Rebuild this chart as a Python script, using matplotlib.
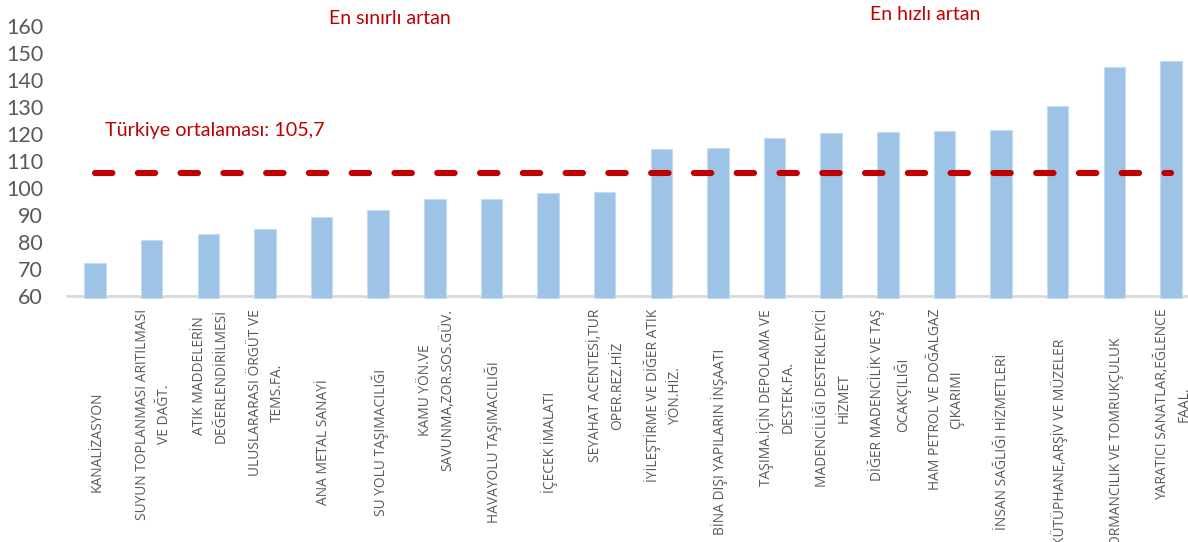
import numpy as np
import matplotlib
matplotlib.use("Agg")
import matplotlib.pyplot as plt
from matplotlib import transforms

# values
labels = [
    "KANALİZASYON",
    "SUYUN TOPLANMASI ARITILMASI\nVE DAĞT.",
    "ATIK MADDELERİN\nDEĞERLENDİRİLMESİ",
    "ULUSLARARASI ÖRGÜT VE\nTEMS.FA.",
    "ANA METAL SANAYİ",
    "SU YOLU TAŞIMACILIĞI",
    "KAMU YÖN.VE\nSAVUNMA,ZOR.SOS.GÜV.",
    "HAVAYOLU TAŞIMACILIĞI",
    "İÇECEK İMALATI",
    "SEYAHAT ACENTESİ,TUR\nOPER.REZ.HİZ",
    "İYİLEŞTİRME VE DİĞER ATIK\nYÖN.HİZ.",
    "BİNA DIŞI YAPILARIN İNŞAATI",
    "TAŞIMA.İÇİN DEPOLAMA VE\nDESTEK.FA.",
    "MADENCİLİĞİ DESTEKLEYİCİ\nHİZMET",
    "DİĞER MADENCİLİK VE TAŞ\nOCAKÇILIĞI",
    "HAM PETROL VE DOĞALGAZ\nÇIKARIMI",
    "İNSAN SAĞLIĞI HİZMETLERİ",
    "KÜTÜPHANE,ARŞİV VE MÜZELER",
    "ORMANCILIK VE TOMRUKÇULUK",
    "YARATICI SANATLAR,EĞLENCE\nFAAL.",
]
values = [72.4, 80.7, 82.8, 84.9, 89.1, 92.0, 95.8, 95.9, 98.3, 98.4,
          114.3, 114.8, 118.7, 120.2, 120.7, 121.1, 121.5, 130.4, 144.8, 146.9]
average = 105.7
yticks = [60, 70, 80, 90, 100, 110, 120, 130, 140, 150, 160]

BAR = "#9dc3e6"
RED = "#c00000"
GREY = "#595959"

fig = plt.figure(figsize=(11.88, 5.42), dpi=100)
W, H = 1188, 542
ax = fig.add_axes([66.7 / W, 1 - 296 / H, (1199.3 - 66.7) / W, 270 / H])

x = np.arange(len(values))
ax.bar(x, np.array(values) - 59.1, bottom=59.1, width=0.38, color=BAR,
       edgecolor="#c6dcf1", linewidth=0.8, clip_on=False, zorder=2)

ax.plot([x[0], x[-1]], [average, average], color=RED, linewidth=4.4,
        dashes=(2.85, 4.15), solid_capstyle="round", dash_capstyle="round", zorder=3)

ax.set_xlim(-0.5, len(values) - 0.5)
ax.set_ylim(60, 160)
ax.set_yticks(yticks)
ax.set_xticks([])
for s in ["top", "right", "left"]:
    ax.spines[s].set_visible(False)
ax.spines["bottom"].set_color("#d9d9d9")
ax.spines["bottom"].set_linewidth(2)
ax.spines["bottom"].set_zorder(1)
ax.tick_params(axis="y", length=0, pad=17, labelsize=15.5, labelcolor=GREY)
for t in ax.get_yticklabels():
    t.set_fontfamily("Lato")

# category labels, rotated
tr = transforms.blended_transform_factory(ax.transData, fig.transFigure)
for i, lab in enumerate(labels):
    if "\n" in lab:
        ax.text(x[i] + 0.03, 1 - 309 / H, lab, transform=tr, rotation=90,
                ha="center", va="top", multialignment="center",
                fontsize=9.9, color=GREY, family="Open Sans", linespacing=1.6)
    else:
        ax.text(x[i] + 0.03, 1 - 442 / H, lab, transform=tr, rotation=90,
                ha="center", va="center", fontsize=9.9, color=GREY,
                family="Open Sans")

fig.text(390 / W, 1 - 18 / H, "En sınırlı artan", color=RED, fontsize=14,
         family="Lato", ha="center", va="center")
fig.text(925 / W, 1 - 14 / H, "En hızlı artan", color=RED, fontsize=14,
         family="Lato", ha="center", va="center")
fig.text(105 / W, 1 - 131 / H, "Türkiye ortalaması: 105,7", color=RED,
         fontsize=14.2, family="Lato", ha="left", va="center")

fig.savefig("out.png", dpi=100)
